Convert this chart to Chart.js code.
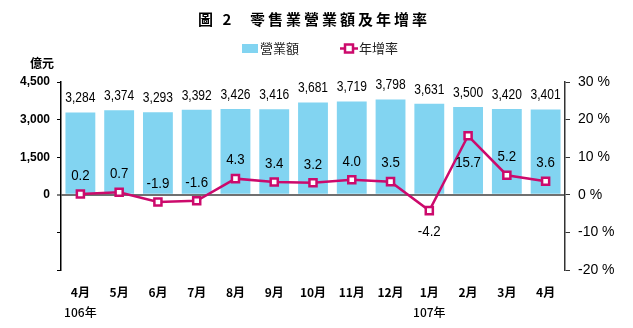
<!DOCTYPE html>
<html>
<head>
<meta charset="utf-8">
<script src="https://cdn.jsdelivr.net/npm/chart.js@4/dist/chart.umd.min.js"></script>
<style>
  html, body { margin: 0; padding: 0; background: #fff; }
  canvas { display: block; }
</style>
</head>
<body>
<canvas id="chart" width="633" height="328"></canvas>
<script>
const months = ['4月', '5月', '6月', '7月', '8月', '9月', '10月', '11月', '12月', '1月', '2月', '3月', '4月'];
const yearLabels = ['106年', '', '', '', '', '', '', '', '', '107年', '', '', ''];
const sales = [3284, 3374, 3293, 3392, 3426, 3416, 3681, 3719, 3798, 3631, 3500, 3420, 3401];
const growth = [0.2, 0.7, -1.9, -1.6, 4.3, 3.4, 3.2, 4.0, 3.5, -4.2, 15.7, 5.2, 3.6];
const salesTicks = [-3000, -1500, 0, 1500, 3000, 4500];
const growthTicks = [-20, -10, 0, 10, 20, 30];

const colors = {
    bar: '#82d4f1',
    line: '#cc0a6c',
    zero: '#707070',
    ink: '#000000'
};

const numFont = "'Liberation Sans', sans-serif";
const cjkFont = "'Noto Sans CJK TC', sans-serif";

// narrow-looking number text: squeeze horizontally around its centre
function narrowText(ctx, text, x, y, squeeze) {
    ctx.save();
    ctx.translate(x, y);
    ctx.scale(squeeze, 1);
    ctx.fillText(text, 0, 0);
    ctx.restore();
}

const decorations = {
    id: 'decorations',
    afterDraw(chart) {
        const ctx = chart.ctx;
        ctx.save();

        // title
        ctx.fillStyle = colors.ink;
        ctx.textBaseline = 'middle';
        ctx.textAlign = 'left';
        ctx.font = `bold 15px ${cjkFont}`;
        ctx.letterSpacing = '3px';
        ctx.fillText('圖 2', 198, 19);
        ctx.fillText('零售業營業額及年增率', 250, 19);
        ctx.letterSpacing = '0px';

        // legend
        ctx.fillStyle = colors.bar;
        ctx.fillRect(242, 44, 16, 9);
        ctx.fillStyle = '#222';
        ctx.font = `13px ${cjkFont}`;
        ctx.fillText('營業額', 260, 48.5);
        ctx.strokeStyle = colors.line;
        ctx.lineWidth = 2.5;
        ctx.beginPath();
        ctx.moveTo(340, 48.5);
        ctx.lineTo(358, 48.5);
        ctx.stroke();
        ctx.fillStyle = '#fff';
        ctx.fillRect(345, 44.5, 8, 8);
        ctx.strokeRect(345, 44.5, 8, 8);
        ctx.fillStyle = '#222';
        ctx.fillText('年增率', 359, 48.5);

        // unit
        ctx.fillStyle = colors.ink;
        ctx.font = `bold 12px ${cjkFont}`;
        ctx.textAlign = 'center';
        ctx.fillText('億元', 42, 63);

        // year labels under months
        const xScale = chart.scales.x;
        ctx.font = `500 12px ${cjkFont}`;
        yearLabels.forEach((label, i) => {
            if (label) {
                ctx.fillText(label, xScale.getPixelForValue(i), 312);
            }
        });

        // bar values
        ctx.font = `14px ${numFont}`;
        chart.getDatasetMeta(0).data.forEach((bar, i) => {
            narrowText(ctx, sales[i].toLocaleString('en-US'), bar.x, bar.y - 14, 0.86);
        });

        // growth values
        chart.getDatasetMeta(1).data.forEach((pt, i) => {
            const v = growth[i];
            const below = v < -3 || v > 10;
            const y = below ? pt.y + (v > 10 ? 27 : 22) : pt.y - 18;
            narrowText(ctx, v.toFixed(1), pt.x, y, 0.95);
        });

        ctx.restore();
    }
};

new Chart(document.getElementById('chart'), {
    type: 'bar',
    data: {
        labels: months,
        datasets: [{
            type: 'bar',
            label: '營業額',
            data: sales,
            yAxisID: 'y',
            backgroundColor: colors.bar,
            categoryPercentage: 1,
            barPercentage: 0.77,
            order: 1
        }, {
            type: 'line',
            label: '年增率',
            data: growth,
            yAxisID: 'y1',
            borderColor: colors.line,
            borderWidth: 2.5,
            pointStyle: 'rect',
            pointRadius: 5,
            pointBorderWidth: 2.5,
            pointBackgroundColor: '#fff',
            pointBorderColor: colors.line,
            tension: 0,
            order: 0
        }]
    },
    options: {
        responsive: false,
        animation: false,
        layout: { padding: { top: 82, left: 0, right: 0, bottom: 0 } },
        plugins: {
            legend: { display: false },
            tooltip: { enabled: false },
            title: { display: false }
        },
        scales: {
            x: {
                grid: { display: false, drawTicks: false },
                border: { display: false },
                ticks: {
                    color: colors.ink,
                    padding: 15,
                    maxRotation: 0,
                    autoSkip: false,
                    font: { family: cjkFont, size: 12, weight: 'bold' }
                },
                afterFit: (scale) => { scale.height = 58; }
            },
            y: {
                position: 'left',
                min: salesTicks[0],
                max: salesTicks[salesTicks.length - 1],
                afterBuildTicks: (scale) => { scale.ticks = salesTicks.map((value) => ({ value })); },
                border: { display: true, color: '#000', width: 1.5 },
                grid: {
                    color: (c) => c.tick && c.tick.value === 0 ? colors.zero : 'rgba(0,0,0,0)',
                    lineWidth: (c) => c.tick && c.tick.value === 0 ? 2 : 1,
                    tickColor: '#000',
                    tickWidth: 1,
                    tickLength: 4
                },
                ticks: {
                    color: colors.ink,
                    padding: 7,
                    font: { family: "'Liberation Sans', sans-serif", size: 12, weight: 'bold' },
                    callback: (v) => v >= 0 ? Number(v).toLocaleString('en-US') : ''
                },
                afterFit: (scale) => { scale.width = 61; }
            },
            y1: {
                position: 'right',
                min: growthTicks[0],
                max: growthTicks[growthTicks.length - 1],
                afterBuildTicks: (scale) => { scale.ticks = growthTicks.map((value) => ({ value })); },
                border: { display: true, color: '#333', width: 1.5 },
                grid: {
                    drawOnChartArea: false,
                    tickColor: '#333',
                    tickWidth: 1,
                    tickLength: 5
                },
                ticks: {
                    color: colors.ink,
                    padding: 8,
                    font: { family: "'Liberation Sans', sans-serif", size: 14 },
                    callback: (v) => `${v} %`
                },
                afterFit: (scale) => { scale.width = 68; }
            }
        }
    },
    plugins: [decorations]
});
</script>
</body>
</html>
